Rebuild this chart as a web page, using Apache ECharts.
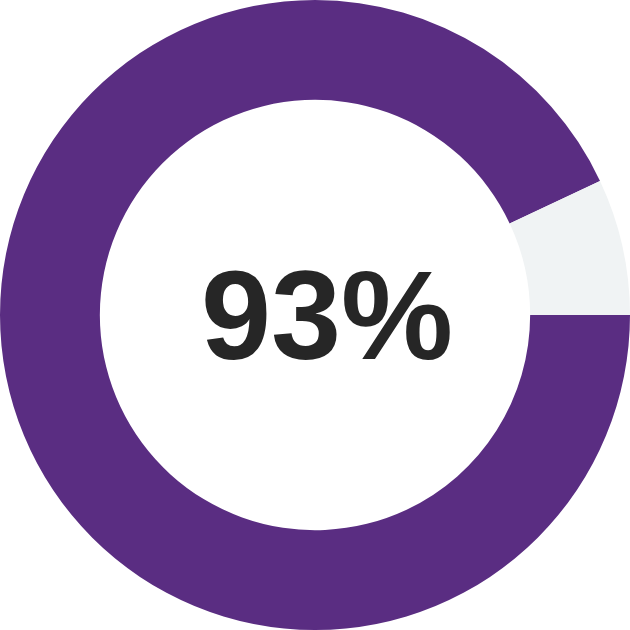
<!DOCTYPE html>
<html>
<head>
<meta charset="utf-8">
<script src="https://cdn.jsdelivr.net/npm/echarts@6/dist/echarts.min.js"></script>
<style>html,body{margin:0;padding:0;background:#fff}#c{width:630px;height:630px}</style>
</head>
<body>
<div id="c"></div>
<script>
const categories = ['Yes', 'Rest'];
const values = [93, 7];
const colors = ['#5a2d82', '#f0f3f4'];
const centerLabel = '93%';

const chart = echarts.init(document.getElementById('c'));
chart.setOption({
  animation: false,
  backgroundColor: '#ffffff',
  series: [{
    type: 'pie',
    center: ['50%', '50%'],
    radius: ['68.3%', '100%'],
    startAngle: 0,
    clockwise: true,
    silent: true,
    label: { show: false },
    labelLine: { show: false },
    data: categories.map((n, i) => ({ name: n, value: values[i], itemStyle: { color: colors[i] } }))
  }],
  graphic: [{
    type: 'text',
    x: 327,
    y: 324,
    style: {
      text: centerLabel,
      fontFamily: 'Liberation Sans, Arial, sans-serif',
      fontWeight: 'bold',
      fontSize: 126,
      fill: '#262626',
      align: 'center',
      verticalAlign: 'middle'
    }
  }]
});
</script>
</body>
</html>
